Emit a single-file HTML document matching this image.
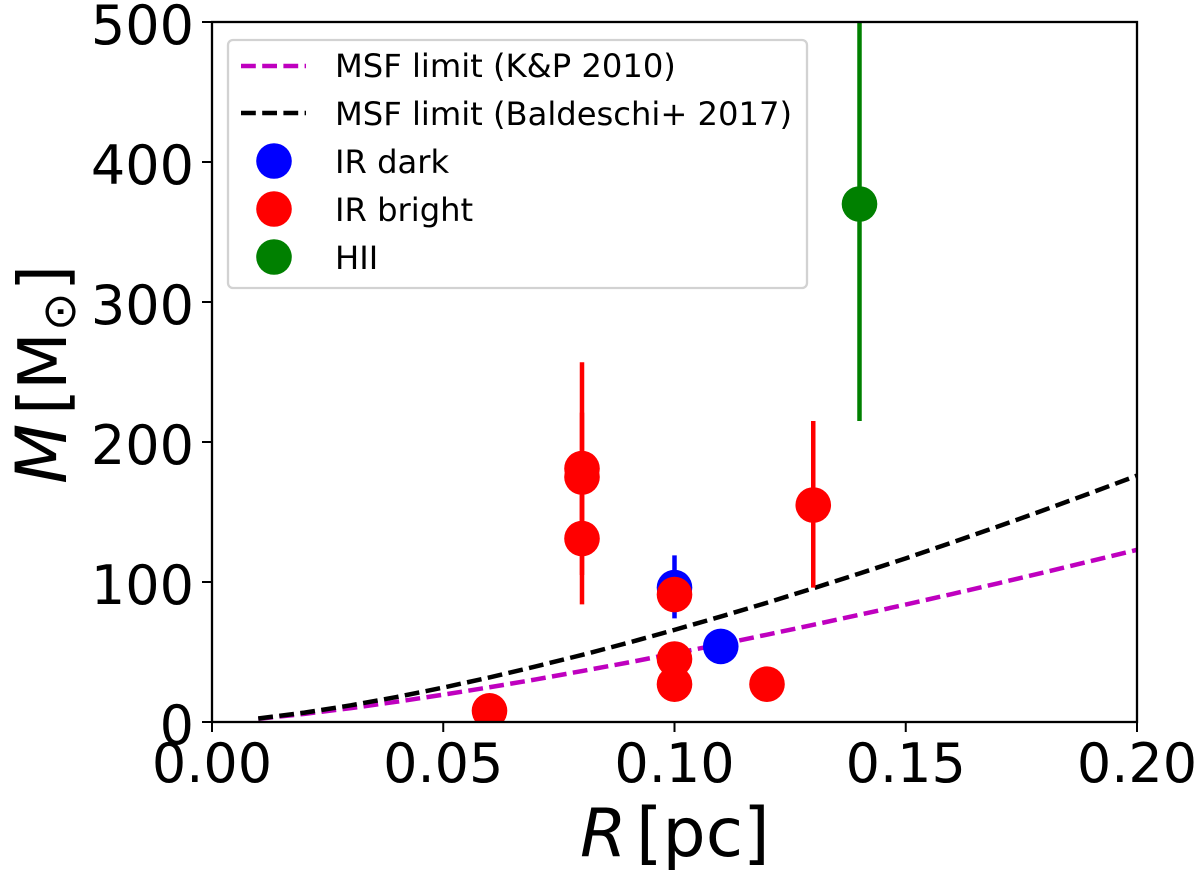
<!DOCTYPE html>
<html>
<head>
<meta charset="utf-8">
<title>Mass-radius chart</title>
<style>
html,body{margin:0;padding:0;background:#fff;width:1200px;height:876px;overflow:hidden}
svg{display:block}
text{font-family:"DejaVu Sans","Liberation Sans",sans-serif;fill:#000}
</style>
</head>
<body>
<svg id="chart" xmlns="http://www.w3.org/2000/svg" width="1200" height="876" viewBox="0 0 1200 876">
  <defs><clipPath id="plot-clip"><rect x="212" y="22" width="925" height="700"></rect></clipPath></defs>
  <rect x="0" y="0" width="1200" height="876" fill="#fff"></rect>
  <g id="marks" clip-path="url(#plot-clip)"></g>
  <rect x="212" y="22" width="925" height="700" fill="none" stroke="#000" stroke-width="2.3"></rect>
  <g id="axes"></g>

  <text x="580" y="856" font-size="67" font-style="italic">R</text>
  <text x="636" y="856" font-size="68">[pc]</text>

  <g>
    <text transform="translate(66,484) rotate(-90)" font-size="70" font-style="italic">M</text>
    <text transform="translate(66,415) rotate(-90)" font-size="67">[</text>
    <text transform="translate(66,390) rotate(-90)" font-size="67">M</text>
    <text transform="translate(75,331) rotate(-90)" font-size="46">⊙</text>
    <text transform="translate(66,291) rotate(-90)" font-size="67">]</text>
  </g>

  <g>
    <rect x="228" y="40" width="579" height="248" rx="5" ry="5" fill="#fff" stroke="#d2d2d2" stroke-width="2.3"></rect>
    <line x1="241" x2="306" y1="66" y2="66" stroke="#bf00bf" stroke-width="4.5" stroke-dasharray="14.8 6.4"></line>
    <text x="335" y="77" font-size="32.2">MSF limit (K&amp;P 2010)</text>
    <line x1="241" x2="306" y1="113" y2="113" stroke="#000" stroke-width="4.5" stroke-dasharray="14.8 6.4"></line>
    <text x="335" y="125" font-size="32.2">MSF limit (Baldeschi+ 2017)</text>
    <circle cx="274" cy="161" r="17.8" fill="#0000ff"></circle>
    <text x="335" y="173" font-size="32.2">IR dark</text>
    <circle cx="274" cy="209" r="17.8" fill="#ff0000"></circle>
    <text x="335" y="221" font-size="32.2">IR bright</text>
    <circle cx="274" cy="257" r="17.8" fill="#008000"></circle>
    <text x="335" y="269" font-size="32.2">HII</text>
  </g>
</svg>
<script>
const xTicks = ["0.00", "0.05", "0.10", "0.15", "0.20"];
const yTicks = ["0", "100", "200", "300", "400", "500"];

const curveR = [0.01,0.02,0.03,0.04,0.05,0.06,0.07,0.08,0.09,0.10,0.11,0.12,0.13,0.14,0.15,0.16,0.17,0.18,0.19,0.20];
const curveKP = [2.3,5.8,9.9,14.5,19.5,24.8,30.4,36.4,42.5,49,55.5,62.4,69.4,76.6,83.9,91.4,99.1,106.9,114.9,123];
const curveBaldeschi = [2.5,6.7,11.9,17.9,24.6,31.8,39.7,47.9,56.6,65.8,75.3,85.2,95.5,106.1,116.9,128.2,139.7,151.5,163.6,176];

const darkR = [0.10, 0.11];
const darkM = [96, 54];
const darkLow = [74, 54];
const darkHigh = [119, 54];

const brightR = [0.06, 0.08, 0.08, 0.08, 0.10, 0.10, 0.10, 0.12, 0.13];
const brightM = [8, 181, 175, 131, 91, 45, 27, 27, 155];
const brightLow = [8, 105, 129, 84, 91, 45, 27, 27, 96];
const brightHigh = [8, 257, 221, 178, 91, 45, 27, 27, 215];

const hiiR = [0.14];
const hiiM = [370];
const hiiLow = [215];
const hiiHigh = [525];

const NS = "http://www.w3.org/2000/svg";
const marks = document.getElementById("marks");
const axes = document.getElementById("axes");

function sx(v) { return 212 + (v / 0.20) * 925; }
function sy(v) { return 722 - (v / 500) * 700; }

function drawCurve(rs, ms, color, name) {
  const p = document.createElementNS(NS, "polyline");
  p.setAttribute("points", rs.map((r, i) => sx(r) + "," + sy(ms[i])).join(" "));
  p.setAttribute("fill", "none");
  p.setAttribute("stroke", color);
  p.setAttribute("stroke-width", "4.5");
  p.setAttribute("stroke-dasharray", "14.8 6.4");
  
  
  marks.appendChild(p);
}

function drawSeries(rs, ms, lows, highs, color, name) {
  rs.forEach((r, i) => {
    if (highs[i] !== lows[i]) {
      const l = document.createElementNS(NS, "line");
      l.setAttribute("x1", sx(r));
      l.setAttribute("x2", sx(r));
      l.setAttribute("y1", sy(lows[i]));
      l.setAttribute("y2", sy(highs[i]));
      l.setAttribute("stroke", color);
      l.setAttribute("stroke-width", "4.5");
      
      
      marks.appendChild(l);
    }
  });
  rs.forEach((r, i) => {
    const c = document.createElementNS(NS, "circle");
    c.setAttribute("cx", sx(r));
    c.setAttribute("cy", sy(ms[i]));
    c.setAttribute("r", "17.8");
    c.setAttribute("fill", color);
    
    
    marks.appendChild(c);
  });
}

drawCurve(curveR, curveKP, "#bf00bf", "msf-limit-kp-line");
drawCurve(curveR, curveBaldeschi, "#000", "msf-limit-baldeschi-line");
drawSeries(darkR, darkM, darkLow, darkHigh, "#0000ff", "ir-dark");
drawSeries(brightR, brightM, brightLow, brightHigh, "#ff0000", "ir-bright");
drawSeries(hiiR, hiiM, hiiLow, hiiHigh, "#008000", "hii");

xTicks.forEach((t) => {
  const x = sx(parseFloat(t));
  const l = document.createElementNS(NS, "line");
  l.setAttribute("x1", x);
  l.setAttribute("x2", x);
  l.setAttribute("y1", 722);
  l.setAttribute("y2", 732);
  l.setAttribute("stroke", "#000");
  l.setAttribute("stroke-width", "2");
  
  
  axes.appendChild(l);
  const s = document.createElementNS(NS, "text");
  s.setAttribute("x", x);
  s.setAttribute("y", 782);
  s.setAttribute("font-size", "54");
  s.setAttribute("text-anchor", "middle");
  
  
  s.textContent = t;
  axes.appendChild(s);
});

yTicks.forEach((t) => {
  const y = sy(parseFloat(t));
  const l = document.createElementNS(NS, "line");
  l.setAttribute("x1", 202);
  l.setAttribute("x2", 212);
  l.setAttribute("y1", y);
  l.setAttribute("y2", y);
  l.setAttribute("stroke", "#000");
  l.setAttribute("stroke-width", "2");
  
  
  axes.appendChild(l);
  const s = document.createElementNS(NS, "text");
  s.setAttribute("x", 194);
  s.setAttribute("y", y + 22);
  s.setAttribute("font-size", "54");
  s.setAttribute("text-anchor", "end");
  
  
  s.textContent = t;
  axes.appendChild(s);
});
</script>
</body>
</html>
